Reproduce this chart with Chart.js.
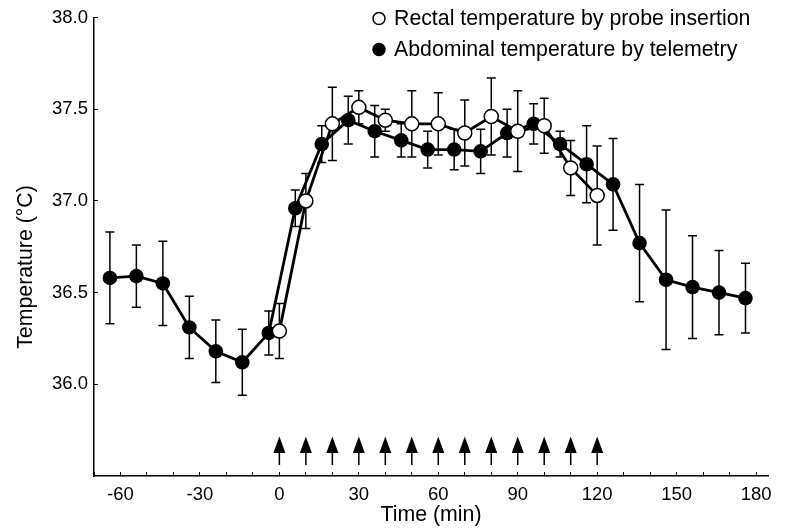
<!DOCTYPE html>
<html>
<head>
<meta charset="utf-8">
<script src="https://cdn.jsdelivr.net/npm/chart.js@4.4.1/dist/chart.umd.min.js"></script>
<style>
  html, body { margin: 0; padding: 0; background: #fff; }
  #box { width: 787px; height: 528px; }
</style>
</head>
<body>
<div id="box"><canvas id="g_temp"></canvas></div>
<script>
// abdominal temperature (telemetry), filled circles
const abdTime = [-64, -54, -44, -34, -24, -14, -4, 6, 16, 26, 36, 46, 56, 66, 76, 86, 96, 106, 116, 126, 136, 146, 156, 166, 176];
const abdTemp = [36.58, 36.59, 36.55, 36.31, 36.18, 36.12, 36.28, 36.96, 37.31, 37.44, 37.38, 37.33, 37.28, 37.28, 37.27, 37.37, 37.42, 37.31, 37.20, 37.09, 36.77, 36.57, 36.53, 36.50, 36.47];
const abdErr = [0.25, 0.17, 0.23, 0.17, 0.17, 0.18, 0.12, 0.10, 0.10, 0.13, 0.14, 0.09, 0.10, 0.11, 0.12, 0.13, 0.11, 0.07, 0.21, 0.25, 0.32, 0.38, 0.28, 0.23, 0.19];
// rectal temperature (probe), open circles
const recTime = [0, 10, 20, 30, 40, 50, 60, 70, 80, 90, 100, 110, 120];
const recTemp = [36.29, 37.00, 37.42, 37.51, 37.44, 37.42, 37.42, 37.37, 37.46, 37.38, 37.41, 37.18, 37.03];
const recErr = [0.15, 0.15, 0.20, 0.09, 0.06, 0.18, 0.17, 0.18, 0.21, 0.22, 0.15, 0.15, 0.27];
// arrows on the time axis
const arrowTime = [0, 10, 20, 30, 40, 50, 60, 70, 80, 90, 100, 110, 120];
const yTicks = [36.0, 36.5, 37.0, 37.5, 38.0];

const FONT = "'Liberation Sans', Arial, sans-serif";

function toPoints(xs, ys) {
    return xs.map(function(x, i) { return { x: x, y: ys[i] }; });
}

// error bars, drawn under the markers
const errorBars = {
    id: 'errorBars',
    beforeDatasetsDraw(chart) {
        const ctx = chart.ctx;
        const xs = chart.scales.x, ys = chart.scales.y;
        const sets = [[abdTime, abdTemp, abdErr], [recTime, recTemp, recErr]];
        ctx.save();
        ctx.strokeStyle = '#000';
        ctx.lineWidth = 1.5;
        sets.forEach(function(s) {
            s[0].forEach(function(t, i) {
                const px = xs.getPixelForValue(t);
                const top = ys.getPixelForValue(s[1][i] + s[2][i]);
                const bot = ys.getPixelForValue(s[1][i] - s[2][i]);
                ctx.beginPath();
                ctx.moveTo(px, top); ctx.lineTo(px, bot);
                ctx.moveTo(px - 4.5, top); ctx.lineTo(px + 4.5, top);
                ctx.moveTo(px - 4.5, bot); ctx.lineTo(px + 4.5, bot);
                ctx.stroke();
            });
        });
        ctx.restore();
    }
};

// arrows, legend and y title
const extras = {
    id: 'extras',
    afterDraw(chart) {
        const ctx = chart.ctx;
        const xs = chart.scales.x, ys = chart.scales.y;
        const area = chart.chartArea;
        ctx.save();
        ctx.fillStyle = '#000';
        ctx.strokeStyle = '#000';
        const tip = ys.getPixelForValue(35.715);
        const headBase = ys.getPixelForValue(35.625);
        const tail = ys.getPixelForValue(35.56);
        arrowTime.forEach(function(t) {
            const px = xs.getPixelForValue(t);
            ctx.lineWidth = 1.5;
            ctx.beginPath();
            ctx.moveTo(px, headBase - 1); ctx.lineTo(px, tail);
            ctx.stroke();
            ctx.beginPath();
            ctx.moveTo(px, tip);
            ctx.lineTo(px - 6, headBase);
            ctx.lineTo(px + 6, headBase);
            ctx.closePath();
            ctx.fill();
        });

        // legend
        ctx.font = '21.3px ' + FONT;
        ctx.textBaseline = 'middle';
        ctx.textAlign = 'left';
        const lx = area.left + 285;
        const rows = [[area.top + 1, 'Rectal temperature by probe insertion', false],
                      [area.top + 32, 'Abdominal temperature by telemetry', true]];
        rows.forEach(function(r) {
            ctx.beginPath();
            ctx.arc(lx, r[0], 6, 0, Math.PI * 2);
            ctx.fillStyle = r[2] ? '#000' : '#fff';
            ctx.fill();
            ctx.lineWidth = 1.5;
            ctx.stroke();
            ctx.fillStyle = '#000';
            ctx.fillText(r[1], lx + 15, r[0] + 1);
        });

        // y axis title
        ctx.translate(26, 267);
        ctx.rotate(-Math.PI / 2);
        ctx.textAlign = 'center';
        ctx.fillText('Temperature (°C)', 0, 0);
        ctx.restore();
    }
};

function drawChart() {
    const ctx = document.getElementById('g_temp').getContext('2d');
    const data = {
        datasets: [{
            label: 'Rectal temperature by probe insertion',
            data: toPoints(recTime, recTemp),
            borderColor: '#000',
            borderWidth: 2.8,
            pointRadius: 7,
            pointBackgroundColor: '#fff',
            pointBorderColor: '#000',
            pointBorderWidth: 1.5
        }, {
            label: 'Abdominal temperature by telemetry',
            data: toPoints(abdTime, abdTemp),
            borderColor: '#000',
            borderWidth: 2.8,
            pointRadius: 7.3,
            pointBackgroundColor: '#000',
            pointBorderColor: '#000',
            pointBorderWidth: 0
        }]
    };
    const options = {
        responsive: true,
        maintainAspectRatio: false,
        animation: false,
        layout: { padding: { top: 17.5, right: 19, left: 0, bottom: 0 } },
        plugins: {
            legend: { display: false },
            tooltip: { enabled: false }
        },
        scales: {
            x: {
                type: 'linear',
                min: -70,
                max: 184.5,
                afterFit: function(s) { s.height = 52; },
                border: { color: '#000', width: 1.5 },
                grid: { drawOnChartArea: false, color: '#000', lineWidth: 1, tickLength: -4 },
                ticks: {
                    stepSize: 10,
                    includeBounds: false,
                    autoSkip: false,
                    maxRotation: 0,
                    padding: 12,
                    color: '#000',
                    font: { family: FONT, size: 18.5 },
                    callback: function(v) {
                        const r = Math.round(v);
                        return (r % 30 === 0 && r >= -60) ? String(r) : '';
                    }
                },
                title: {
                    display: true,
                    text: 'Time (min)',
                    color: '#000',
                    font: { family: FONT, size: 21.3 },
                    padding: { top: 0, bottom: 0 }
                }
            },
            y: {
                min: 35.5,
                max: 38.0,
                afterFit: function(s) { s.width = 94; s.paddingTop = 0; s.paddingBottom = 0; },
                afterBuildTicks: function(s) {
                    s.ticks = yTicks.map(function(v) { return { value: v }; });
                },
                border: { color: '#000', width: 1.5 },
                grid: { drawOnChartArea: false, color: '#000', lineWidth: 1, tickLength: -4 },
                ticks: {
                    padding: 10,
                    color: '#000',
                    font: { family: FONT, size: 18.5 },
                    callback: function(v) { return Number(v).toFixed(1); }
                }
            }
        }
    };
    new Chart(ctx, { type: 'line', data: data, options: options, plugins: [errorBars, extras] });
}

window.addEventListener('load', () => {
    drawChart();
});
</script>
</body>
</html>
